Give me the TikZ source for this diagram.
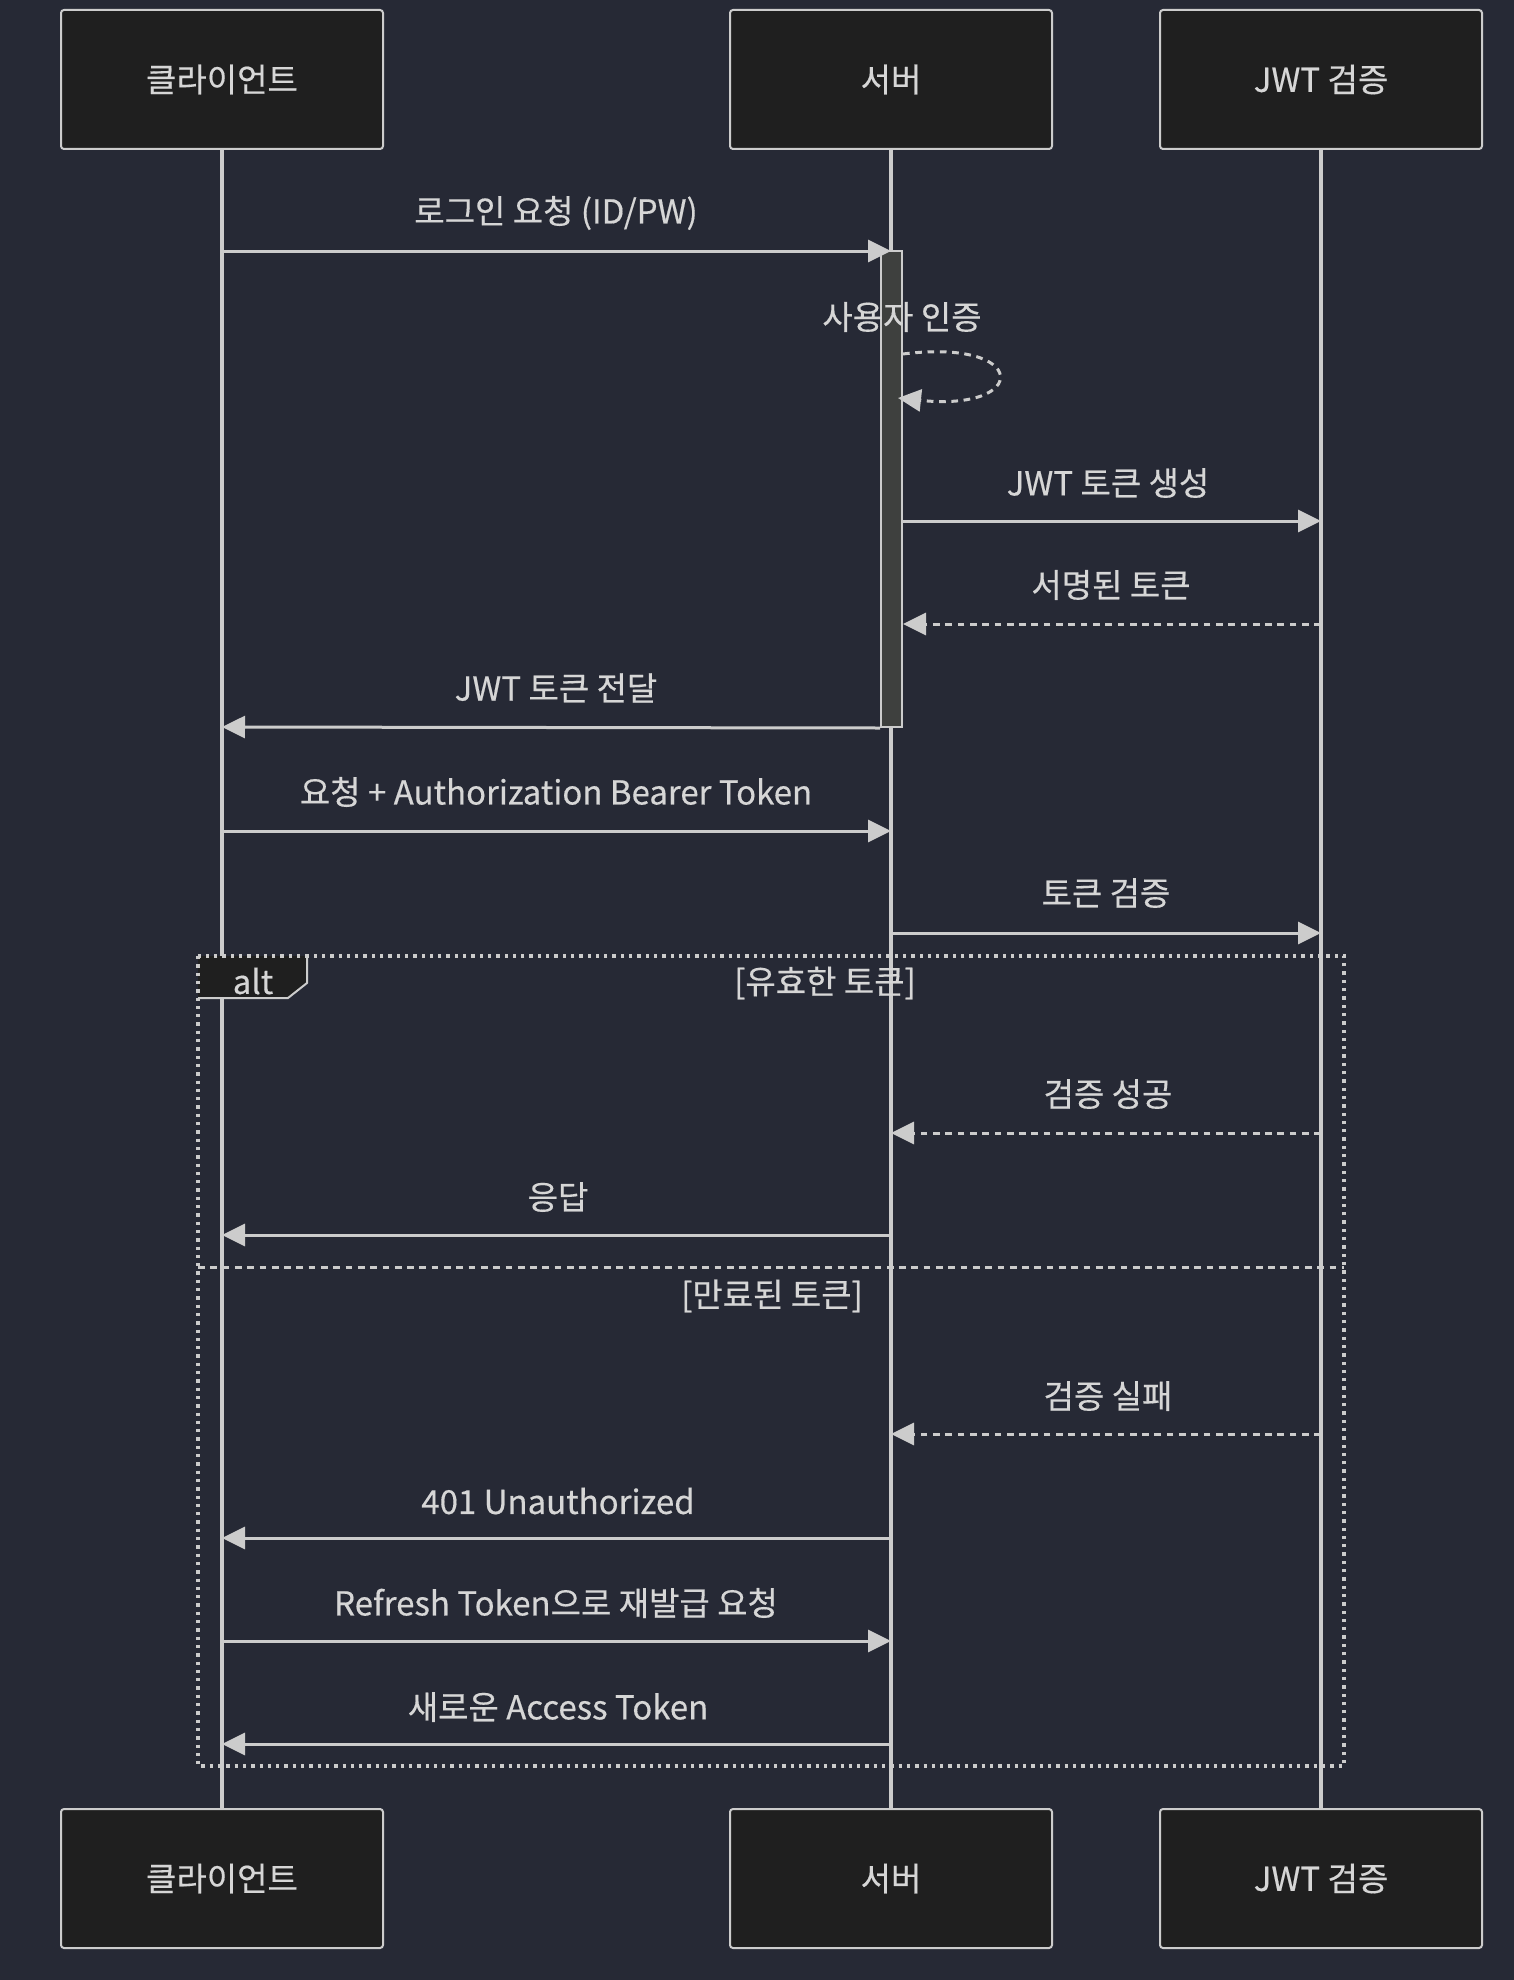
\documentclass[tikz,border=0pt]{standalone}
\usepackage{fontspec}
\setmainfont[FakeBold=0.4]{Noto Sans CJK KR}
\usetikzlibrary{arrows.meta}
\definecolor{bgc}{RGB}{38,41,53}
\definecolor{boxfill}{RGB}{31,31,31}
\definecolor{linec}{RGB}{204,204,204}
\definecolor{textc}{RGB}{214,214,214}
\definecolor{actfill}{RGB}{62,64,62}
\tikzset{
  actor/.style={draw=linec, fill=boxfill, line width=2pt, rounded corners=3pt,
    minimum width=322pt, minimum height=139pt, inner sep=0pt, text=textc,
    font=\fontsize{33}{40}\selectfont},
  lifeline/.style={draw=linec, line width=3.5pt},
  lbl/.style={text=textc, inner sep=0pt, font=\fontsize{33}{40}\selectfont},
  msg/.style={draw=linec, line width=3pt, -{Triangle[length=23pt,width=22pt]}},
  reply/.style={msg, dash pattern=on 6.7pt off 5.6pt},
  framec/.style={draw=linec, line width=3.3pt, dash pattern=on 3.3pt off 5pt},
  sepc/.style={draw=linec, line width=3pt, dash pattern=on 6.7pt off 5.6pt},
  actbar/.style={draw=linec, fill=actfill, line width=2pt, minimum width=21pt,
    minimum height=476pt, inner sep=0pt},
}
\begin{document}
\begin{tikzpicture}[x=1pt,y=-1pt]
\fill[bgc] (0,0) rectangle (1514,1980);
\useasboundingbox (0,0) rectangle (1514,1980);

% actors
\node[actor] (ct) at (222,79.5) {클라이언트};
\node[actor] (st) at (891,79.5) {서버};
\node[actor] (jt) at (1321,79.5) {JWT 검증};
\node[actor] (cb) at (222,1878.5) {클라이언트};
\node[actor] (sb) at (891,1878.5) {서버};
\node[actor] (jb) at (1321,1878.5) {JWT 검증};

% lifelines
\draw[lifeline] (ct.south) -- (cb.north);
\draw[lifeline] (st.south) -- (sb.north);
\draw[lifeline] (jt.south) -- (jb.north);

% activation
\node[actbar] (act) at (891.5,489) {};

% messages
\node[lbl] (t1) at (556,213) {로그인 요청 (ID/PW)};
\draw[msg] (ct |- 0,251) -- (st |- 0,251);

\node[lbl] (t2) at (902,317) {사용자 인증};
\coordinate (ls) at (903,354);
\coordinate (le) at (898,398);
\draw[reply] (ls) .. controls (1030,338) and (1030,412) .. (le);

\node[lbl] (t3) at (1108,483) {JWT 토큰 생성};
\draw[msg] (act.east |- 0,521) -- (jt |- 0,521);

\node[lbl] (t4) at (1111,585) {서명된 토큰};
\draw[reply] (jt |- 0,624) -- (act.east |- 0,624);

\node[lbl] (t5) at (556,688) {JWT 토큰 전달};
\draw[msg] (act.south west) -- (ct |- 0,727);

\node[lbl] (t6) at (556,792) {요청 + Authorization Bearer Token};
\draw[msg] (ct |- 0,831) -- (st |- 0,831);

\node[lbl] (t7) at (1106,893) {토큰 검증};
\draw[msg] (st |- 0,933) -- (jt |- 0,933);

% alt frame
\fill[boxfill] (198,956) -- (307,956) -- (307,983) -- (288,998) -- (198,998) -- cycle;
\draw[linec, line width=2pt] (307,956) -- (307,983) -- (288,998) -- (198,998);
\draw[framec] (198,956) rectangle (1344,1766);
\node[lbl] (alt) at (253,981) {alt};
\node[lbl] (g1) at (825,983) {[유효한 토큰]};

\node[lbl] (t8) at (1108,1094) {검증 성공};
\draw[reply] (jt |- 0,1133) -- (st |- 0,1133);

\node[lbl] (t9) at (558,1197) {응답};
\draw[msg] (st |- 0,1235) -- (ct |- 0,1235);

\draw[sepc] (198,1267) -- (1344,1267);
\node[lbl] (g2) at (772,1296) {[만료된 토큰]};

\node[lbl] (t10) at (1108,1396) {검증 실패};
\draw[reply] (jt |- 0,1434) -- (st |- 0,1434);

\node[lbl] (t11) at (558,1501) {401 Unauthorized};
\draw[msg] (st |- 0,1538) -- (ct |- 0,1538);

\node[lbl] (t12) at (556,1603) {Refresh Token으로 재발급 요청};
\draw[msg] (ct |- 0,1641) -- (st |- 0,1641);

\node[lbl] (t13) at (558,1707) {새로운 Access Token};
\draw[msg] (st |- 0,1744) -- (ct |- 0,1744);
\end{tikzpicture}
\end{document}
